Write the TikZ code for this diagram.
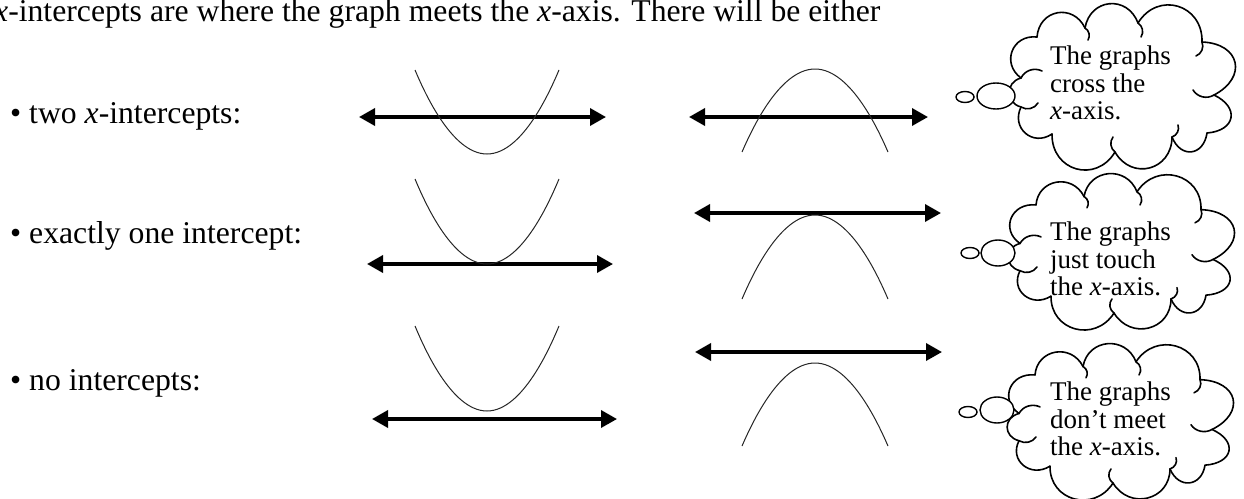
\documentclass[tikz,border=0pt]{standalone}
\usepackage{fontspec}
\setmainfont{Liberation Serif}
\usetikzlibrary{arrows.meta}

\tikzset{
  axisline/.style={line width=3.5pt, {Triangle[length=16pt,width=17pt]}-{Triangle[length=16pt,width=17pt]}},
  graphline/.style={line width=1pt, black!85},
  cloudline/.style={line width=1.6pt, line cap=round},
  bubble/.style={draw, line width=1.4pt, fill=white},
  bigtext/.style={font=\fontsize{31.7}{36}\selectfont, inner sep=0pt},
  cloudtext/.style={font=\fontsize{27}{27.5}\selectfont, align=left, inner sep=0pt},
  % cloud outline: puffs between junction points, plus the inner curls
  thoughtcloud/.pic={
    \foreach \ax/\ay/\bx/\by/\lo in {-101/-8/-85/-49/1.45, -85/-49/-37/-58/1.45, -37/-58/16/-63/1.45,
        16/-63/80/-44/1.45, 80/-44/92/9/1.8, 92/9/85/47/1.9, 85/47/50/51/1.7,
        50/51/-7/66/1.45, -7/66/-70/48/1.45, -70/48/-101/21/1.45, -101/21/-101/-8/1.45}
      \draw[cloudline] (\ax,\ay) to[bend left=75, looseness=\lo] (\bx,\by);
    \foreach \ax/\ay/\bx/\by/\bn in {-101/-8/-80/-15/45, -101/21/-84/17/-45, -37/-58/-34/-46/45,
        16/-63/19/-49/45, 80/-44/74/-30/45, 92/9/71/4/45, 50/51/56/39/-45, -7/66/-9/51/45}
      \draw[cloudline] (\ax,\ay) to[bend left=\bn] (\bx,\by);
  }
}

\begin{document}
\begin{tikzpicture}[x=1pt,y=-1pt]
  \useasboundingbox (0,0) rectangle (1244,498);

  % Heading line
  \node[bigtext, anchor=base west] (intro) at (-6,21) {\textit{x}-intercepts are where the graph meets the \textit{x}-axis. There will be either};

  % Bullet labels
  \node[bigtext, anchor=base west] (twolbl) at (10,123) {• two \textit{x}-intercepts:};
  \node[bigtext, anchor=base west] (onelbl) at (10,243) {• exactly one intercept:};
  \node[bigtext, anchor=base west] (nonelbl) at (10,390) {• no intercepts:};

  % Axes, left column
  \coordinate (twoLa) at (359,117);  \coordinate (twoLb) at (606,117);
  \coordinate (oneLa) at (367,264);  \coordinate (oneLb) at (613,264);
  \coordinate (noneLa) at (372,419); \coordinate (noneLb) at (617,419);
  \draw[axisline] (twoLa) -- (twoLb);
  \draw[axisline] (oneLa) -- (oneLb);
  \draw[axisline] (noneLa) -- (noneLb);

  % Axes, right column
  \coordinate (twoRa) at (689,117);  \coordinate (twoRb) at (928,117);
  \coordinate (oneRa) at (694,213);  \coordinate (oneRb) at (941,213);
  \coordinate (noneRa) at (695,352); \coordinate (noneRb) at (942,352);
  \draw[axisline] (twoRa) -- (twoRb);
  \draw[axisline] (oneRa) -- (oneRb);
  \draw[axisline] (noneRa) -- (noneRb);

  % Parabolas opening up
  \draw[graphline] (415,70) parabola bend (487,154) (559,70);
  \draw[graphline] (415,179) parabola bend (487,264) (559,179);
  \draw[graphline] (415,326) parabola bend (487,411) (559,326);

  % Parabolas opening down
  \draw[graphline] (742,152) parabola bend (815,69) (888,152);
  \draw[graphline] (742,299) parabola bend (815,215) (888,299);
  \draw[graphline] (742,446) parabola bend (815,363) (888,446);

  % Thought clouds
  \coordinate (cloudtwo) at (1122,86);
  \pic at (cloudtwo) {thoughtcloud};
  \draw[bubble] (996,96) ellipse [x radius=19pt, y radius=13pt];
  \draw[bubble] (965,97) ellipse [x radius=9pt, y radius=5.5pt];
  \node[cloudtext, anchor=west] (txttwo) at (1050,83) {The graphs\\cross the\\\textit{x}-axis.};

  \coordinate (cloudone) at (1121,251);
  \pic[yscale=0.94] at (cloudone) {thoughtcloud};
  \draw[bubble] (998,253) ellipse [x radius=17pt, y radius=13pt];
  \draw[bubble] (970,253) ellipse [x radius=9pt, y radius=5.5pt];
  \node[cloudtext, anchor=west] (txtone) at (1050,259) {The graphs\\just touch\\the \textit{x}-axis.};

  \coordinate (cloudnone) at (1120,421);
  \pic[yscale=0.94] at (cloudnone) {thoughtcloud};
  \draw[bubble] (997,410) ellipse [x radius=17pt, y radius=13pt];
  \draw[bubble] (968,412) ellipse [x radius=9pt, y radius=5.5pt];
  \node[cloudtext, anchor=west] (txtnone) at (1050,419) {The graphs\\don’t meet\\the \textit{x}-axis.};
\end{tikzpicture}
\end{document}
